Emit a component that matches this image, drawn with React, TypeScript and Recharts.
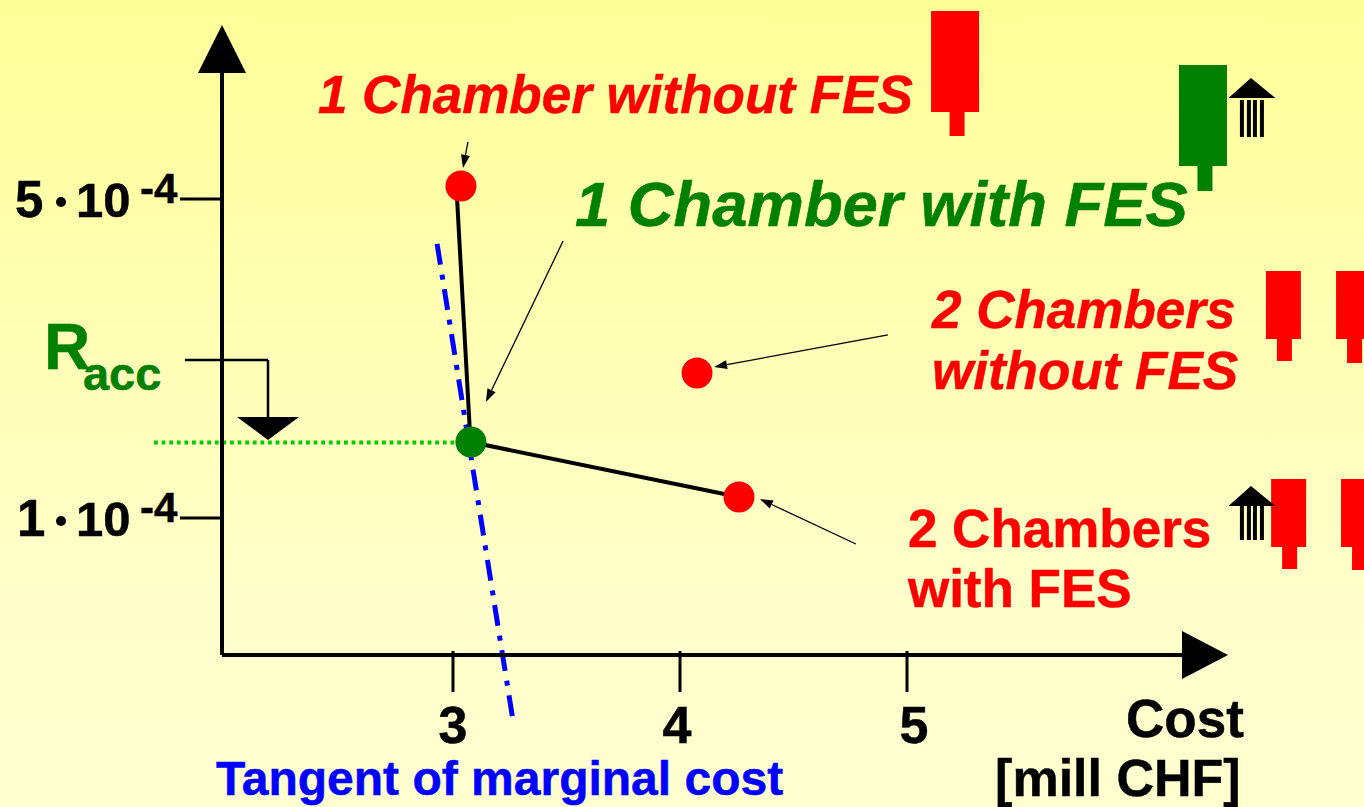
import React from "react";
import { ScatterChart, Scatter, XAxis, YAxis, ReferenceLine, ReferenceDot } from "recharts";

const SANS = "'Liberation Sans', Arial, sans-serif";

// chart values (x: cost in mill CHF, y: risk in units of 10^-4)
const xDomain = [1.9824, 6.392];
const yDomain = [-0.718, 7.119];
const xArrowTip = { x: 6.414, y: -0.718 };
const yArrowTip = { x: 1.9824, y: 7.182 };
const costTicks = [3, 4, 5];
const riskTicks = [1, 5];
const redPoints = [
  { x: 3.035, y: 5.163 },
  { x: 4.075, y: 2.818 },
  { x: 4.26, y: 1.263 },
];
const greenPoints = [{ x: 3.079, y: 1.953 }];
const frontier = [
  { x: 3.018, y: 5.0 },
  { x: 3.077, y: 1.953 },
  { x: 4.26, y: 1.263 },
];
const tangent = [
  { x: 2.93, y: 4.436 },
  { x: 3.264, y: -1.533 },
];
const raccLine = [
  { x: 1.683, y: 1.947 },
  { x: 3.031, y: 1.947 },
];
const raccBracket = [
  [{ x: 1.819, y: 2.981 }, { x: 2.185, y: 2.981 }],
  [{ x: 2.185, y: 2.981 }, { x: 2.185, y: 2.254 }],
];
const pointers = [
  [{ x: 3.066, y: 5.715 }, { x: 3.044, y: 5.389 }],
  [{ x: 3.485, y: 4.473 }, { x: 3.145, y: 2.455 }],
  [{ x: 4.916, y: 3.295 }, { x: 4.15, y: 2.893 }],
  [{ x: 4.775, y: 0.674 }, { x: 4.352, y: 1.238 }],
];
const labels = [
  { text: "1 Chamber without FES", x: 2.405, y: 6.078, color: "#ff0000", size: 53, italic: true },
  { text: "1 Chamber with FES", x: 3.537, y: 4.661, color: "#008000", size: 63.4, italic: true },
  { text: "2 Chambers", x: 5.11, y: 3.385, color: "#ff0000", size: 53, italic: true },
  { text: "without FES", x: 5.11, y: 2.62, color: "#ff0000", size: 53, italic: true },
  { text: "2 Chambers", x: 5.004, y: 0.639, color: "#ff0000", size: 53, italic: false },
  { text: "with FES", x: 5.004, y: -0.113, color: "#ff0000", size: 53, italic: false },
  { text: "Tangent of marginal cost", x: 1.956, y: -2.473, color: "#0000ff", size: 48, italic: false },
  { text: "Cost", x: 5.965, y: -1.746, color: "#000000", size: 53, italic: false },
  { text: "[mill CHF]", x: 5.388, y: -2.486, color: "#000000", size: 52, italic: false },
  { text: "R", x: 1.198, y: 2.868, color: "#008000", size: 64, italic: false },
  { text: "acc", x: 1.37, y: 2.605, color: "#008000", size: 47, italic: false },
];
const chambers = [
  { x: 5.106, y: 7.357, big: true, color: "#ff0000", stemExtra: 0 },
  { x: 6.198, y: 6.68, big: true, color: "#008000", stemExtra: 1 },
  { x: 6.581, y: 4.097, big: false, color: "#ff0000", stemExtra: 0 },
  { x: 6.89, y: 4.097, big: false, color: "#ff0000", stemExtra: 2 },
  { x: 6.604, y: 1.489, big: false, color: "#ff0000", stemExtra: 0 },
  { x: 6.912, y: 1.489, big: false, color: "#ff0000", stemExtra: 1 },
];
const temples = [
  { x: 6.515, y: 6.517, columnTop: 22, columnHeight: 37 },
  { x: 6.515, y: 1.401, columnTop: 20, columnHeight: 34 },
];

const XTick = ({ x, y, payload }: any) => {
  const shift = payload.value === 4 ? -3 : payload.value === 5 ? 7 : 0;
  return (
    <g>
      <line x1={x} x2={x} y1={y - 12} y2={y + 29} stroke="#000" strokeWidth={3} />
      <text
        x={x + shift}
        y={y + 80}
        textAnchor="middle"
        fontFamily={SANS}
        fontWeight="bold"
        fontSize={52}
        fill="#000"
        stroke="#000"
        strokeWidth={0.5}
      >
        {payload.value}
      </text>
    </g>
  );
};

const YTick = ({ y, payload }: any) => {
  const left = 222;
  return (
    <g fontFamily={SANS} fontWeight="bold" fill="#000">
      <line x1={left - 42} x2={left} y1={y} y2={y} stroke="#000" strokeWidth={3} />
      <text x={payload.value === 5 ? 15 : 17} y={y + 18} fontSize={51} stroke="#000" strokeWidth={0.5}>{payload.value}</text>
      <circle cx={61} cy={y + 3} r={5} fill="#000" />
      <text x={76} y={y + 18} fontSize={49} stroke="#000" strokeWidth={0.5}>10</text>
      <text x={140} y={y + 4} fontSize={42} stroke="#000" strokeWidth={0.5}>-4</text>
    </g>
  );
};

const Dot = (color: string) => ({ cx, cy }: any) => <circle cx={cx} cy={cy} r={15.5} fill={color} />;

const Nothing = () => <g />;

const ArrowLine = ({ x1, y1, x2, y2 }: any) => {
  const a = Math.atan2(y2 - y1, x2 - x1);
  const len = 13;
  const half = 4.5;
  const bx = x2 - len * Math.cos(a);
  const by = y2 - len * Math.sin(a);
  const px = -Math.sin(a) * half;
  const py = Math.cos(a) * half;
  return (
    <g>
      <line x1={x1} y1={y1} x2={bx} y2={by} stroke="#000" strokeWidth={1.3} />
      <polygon points={`${x2},${y2} ${bx + px},${by + py} ${bx - px},${by - py}`} fill="#000" />
    </g>
  );
};

const LabelShape = (l: (typeof labels)[number]) => ({ cx, cy }: any) => (
  <text
    x={cx}
    y={cy}
    fontFamily={SANS}
    fontWeight="bold"
    fontStyle={l.italic ? "italic" : "normal"}
    fontSize={l.size}
    fill={l.color}
    stroke={l.color}
    strokeWidth={0.5}
  >
    {l.text}
  </text>
);

const ChamberShape = (c: (typeof chambers)[number]) => ({ cx, cy }: any) => {
  const w = c.big ? 48 : 35;
  const h = c.big ? 101 : 68;
  const sx = c.big ? 18.5 : 11;
  const sh = (c.big ? 24 : 22) + c.stemExtra;
  return (
    <g fill={c.color}>
      <rect x={cx} y={cy} width={w} height={h} />
      <rect x={cx + sx} y={cy + h} width={15} height={sh} />
    </g>
  );
};

const TempleShape = (t: (typeof temples)[number]) => ({ cx, cy }: any) => (
  <g fill="#000">
    <polygon points={`${cx},${cy} ${cx - 22.5},${cy + 20} ${cx + 24.5},${cy + 20}`} />
    {[-11, -4, 2, 9].map((o) => (
      <rect key={o} x={cx + o} y={cy + t.columnTop} width={4} height={t.columnHeight} />
    ))}
  </g>
);

const ArrowUp = ({ cx, cy }: any) => <polygon points={`${cx},${cy} ${cx + 24},${cy + 48} ${cx - 24},${cy + 48}`} fill="#000" />;
const ArrowRight = ({ cx, cy }: any) => <polygon points={`${cx},${cy} ${cx - 46},${cy - 24} ${cx - 46},${cy + 24}`} fill="#000" />;
const ArrowDown = ({ cx, cy }: any) => <polygon points={`${cx},${cy} ${cx - 31},${cy - 23} ${cx + 31},${cy - 23}`} fill="#000" />;

export default function App() {
  return (
    <div
      style={{
        position: "fixed",
        left: 0,
        top: 0,
        width: 1364,
        height: 807,
        overflow: "hidden",
        background: "linear-gradient(180deg, #ffff99 0%, #ffffcc 75%, #ffffd0 100%)",
      }}
    >
      <ScatterChart width={1364} height={807} margin={{ top: 30, right: 141, bottom: 0, left: 0 }} style={{ overflow: "visible" }}>
        <XAxis
          type="number"
          dataKey="x"
          domain={xDomain}
          ticks={costTicks}
          interval={0}
          height={152}
          tick={XTick}
          tickLine={false}
          axisLine={{ stroke: "#000", strokeWidth: 4 }}
          allowDataOverflow
        />
        <YAxis
          type="number"
          dataKey="y"
          domain={yDomain}
          ticks={riskTicks}
          interval={0}
          width={222}
          tick={YTick}
          tickLine={false}
          axisLine={{ stroke: "#000", strokeWidth: 4 }}
          allowDataOverflow
        />
        <ReferenceLine
          segment={tangent}
          ifOverflow="visible"
          stroke="#0000ff"
          strokeWidth={5}
          strokeDasharray="21 10 5 9.7"
        />
        <ReferenceLine segment={raccLine} ifOverflow="visible" stroke="#00cc00" strokeWidth={4} strokeDasharray="3.8 3.8" />
        {raccBracket.map((s, i) => (
          <ReferenceLine key={i} segment={s} ifOverflow="visible" stroke="#000" strokeWidth={2.5} />
        ))}
        <ReferenceDot x={2.185} y={1.978} ifOverflow="visible" shape={ArrowDown} />
        <Scatter
          data={frontier}
          line={{ stroke: "#000", strokeWidth: 4 }}
          shape={Nothing}
          isAnimationActive={false}
        />
        <Scatter data={redPoints} shape={Dot("#ff0000")} isAnimationActive={false} />
        <Scatter data={greenPoints} shape={Dot("#008000")} isAnimationActive={false} />
        {pointers.map((s, i) => (
          <ReferenceLine key={i} segment={s} ifOverflow="visible" shape={ArrowLine} />
        ))}
        <ReferenceDot x={yArrowTip.x} y={yArrowTip.y} ifOverflow="visible" shape={ArrowUp} />
        <ReferenceDot x={xArrowTip.x} y={xArrowTip.y} ifOverflow="visible" shape={ArrowRight} />
        {chambers.map((c, i) => (
          <ReferenceDot key={i} x={c.x} y={c.y} ifOverflow="visible" shape={ChamberShape(c)} />
        ))}
        {temples.map((t, i) => (
          <ReferenceDot key={i} x={t.x} y={t.y} ifOverflow="visible" shape={TempleShape(t)} />
        ))}
        {labels.map((l, i) => (
          <ReferenceDot key={i} x={l.x} y={l.y} ifOverflow="visible" shape={LabelShape(l)} />
        ))}
      </ScatterChart>
    </div>
  );
}
